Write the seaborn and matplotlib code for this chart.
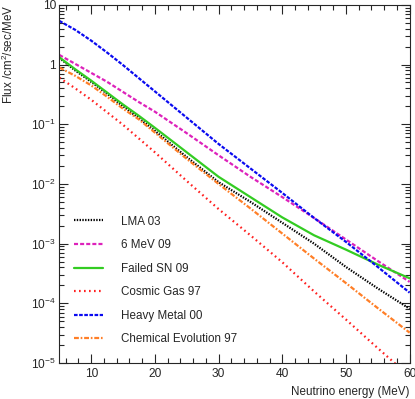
import numpy as np
import pandas as pd
import matplotlib
matplotlib.use("Agg")
import matplotlib.pyplot as plt
from matplotlib.ticker import FixedLocator, FixedFormatter, LogLocator, MultipleLocator, NullFormatter
import seaborn as sns

# Neutrino energy grid (MeV) and log10 of the flux (/cm^2/sec/MeV)
energy = [5, 7.5, 10, 12.5, 15, 17.5, 20, 25, 30, 35, 40, 45, 50, 55, 60]
lma_03 = [0.11, -0.10, -0.29, -0.49, -0.70, -0.90, -1.11, -1.55, -1.97, -2.30, -2.65, -3.00, -3.39, -3.75, -4.09]
mev6_09 = [0.16, 0.01, -0.14, -0.29, -0.46, -0.63, -0.79, -1.15, -1.52, -1.88, -2.22, -2.57, -2.93, -3.29, -3.64]
failed_sn_09 = [0.12, -0.08, -0.27, -0.47, -0.67, -0.86, -1.06, -1.47, -1.88, -2.22, -2.56, -2.86, -3.10, -3.35, -3.58]
cosmic_gas_97 = [-0.22, -0.40, -0.59, -0.80, -1.01, -1.24, -1.47, -1.95, -2.42, -2.86, -3.31, -3.80, -4.27, -4.75, -5.22]
heavy_metal_00 = [0.73, 0.58, 0.40, 0.20, -0.01, -0.23, -0.45, -0.89, -1.33, -1.74, -2.15, -2.57, -2.97, -3.39, -3.82]
chem_evol_97 = [-0.05, -0.19, -0.35, -0.54, -0.74, -0.92, -1.14, -1.58, -2.00, -2.41, -2.83, -3.25, -3.66, -4.08, -4.49]

labels = ["LMA 03", "6 MeV 09", "Failed SN 09", "Cosmic Gas 97", "Heavy Metal 00", "Chemical Evolution 97"]
series = [lma_03, mev6_09, failed_sn_09, cosmic_gas_97, heavy_metal_00, chem_evol_97]
colors = ["#000000", "#dd22bb", "#33cc22", "#ff2020", "#0a0af0", "#ff7f27"]
styles = [(0, (1.0, 1.0)), (0, (2.9, 1.5)), "-", (0, (1.2, 2.4)), (0, (2.6, 1.1)), (0, (3.5, 1.3, 1.2, 1.3))]

ytick_vals = [1e-5, 1e-4, 1e-3, 1e-2, 1e-1, 1, 10]
ytick_labels = ["$10^{-5}$", "$10^{-4}$", "$10^{-3}$", "$10^{-2}$", "$10^{-1}$", "1", "10"]
xtick_vals = [10, 20, 30, 40, 50, 60]

sns.set_style("ticks")
plt.rcParams["font.family"] = ["Liberation Sans", "DejaVu Sans"]
plt.rcParams["mathtext.fontset"] = "custom"
plt.rcParams["mathtext.rm"] = "Liberation Sans"
plt.rcParams["mathtext.it"] = "Liberation Sans:italic"
plt.rcParams["mathtext.default"] = "regular"
plt.rcParams["lines.scale_dashes"] = False

fig = plt.figure(figsize=(4.15, 3.99), dpi=100)
ax = fig.add_axes([0.143, 0.090, 0.844, 0.898])

for lab, vals, col, ls in zip(labels, series, colors, styles):
    df = pd.DataFrame({"E": energy, "flux": np.power(10.0, vals)})
    sns.lineplot(data=df, x="E", y="flux", color=col, linestyle=ls, linewidth=1.6, label=lab, ax=ax)

ax.set_yscale("log")
ax.set_xlim(5, 60)
ax.set_ylim(1e-5, 10)

ax.yaxis.set_major_locator(FixedLocator(ytick_vals))
ax.yaxis.set_major_formatter(FixedFormatter(ytick_labels))
ax.yaxis.set_minor_locator(LogLocator(base=10, subs=np.arange(2, 10)))
ax.yaxis.set_minor_formatter(NullFormatter())
ax.xaxis.set_major_locator(FixedLocator(xtick_vals))
ax.xaxis.set_minor_locator(MultipleLocator(2))

ax.tick_params(which="both", direction="in", top=True, right=True, width=0.8, labelsize=8.6)
ax.tick_params(which="major", length=6.5)
ax.tick_params(which="minor", length=3.5)
ax.tick_params(axis="y", pad=2.5)
for sp in ax.spines.values():
    sp.set_linewidth(0.8)

ax.set_xlabel("Neutrino energy (MeV)", loc="right", fontsize=8.4)
ax.set_ylabel("Flux /cm$^2$/sec/MeV", loc="top", fontsize=8.4, labelpad=11)

ax.legend(loc="upper left", bbox_to_anchor=(0.012, 0.441), frameon=False, fontsize=8.4,
          handlelength=2.5, handletextpad=1.5, labelspacing=0.99)

fig.savefig("out.png", dpi=100)
